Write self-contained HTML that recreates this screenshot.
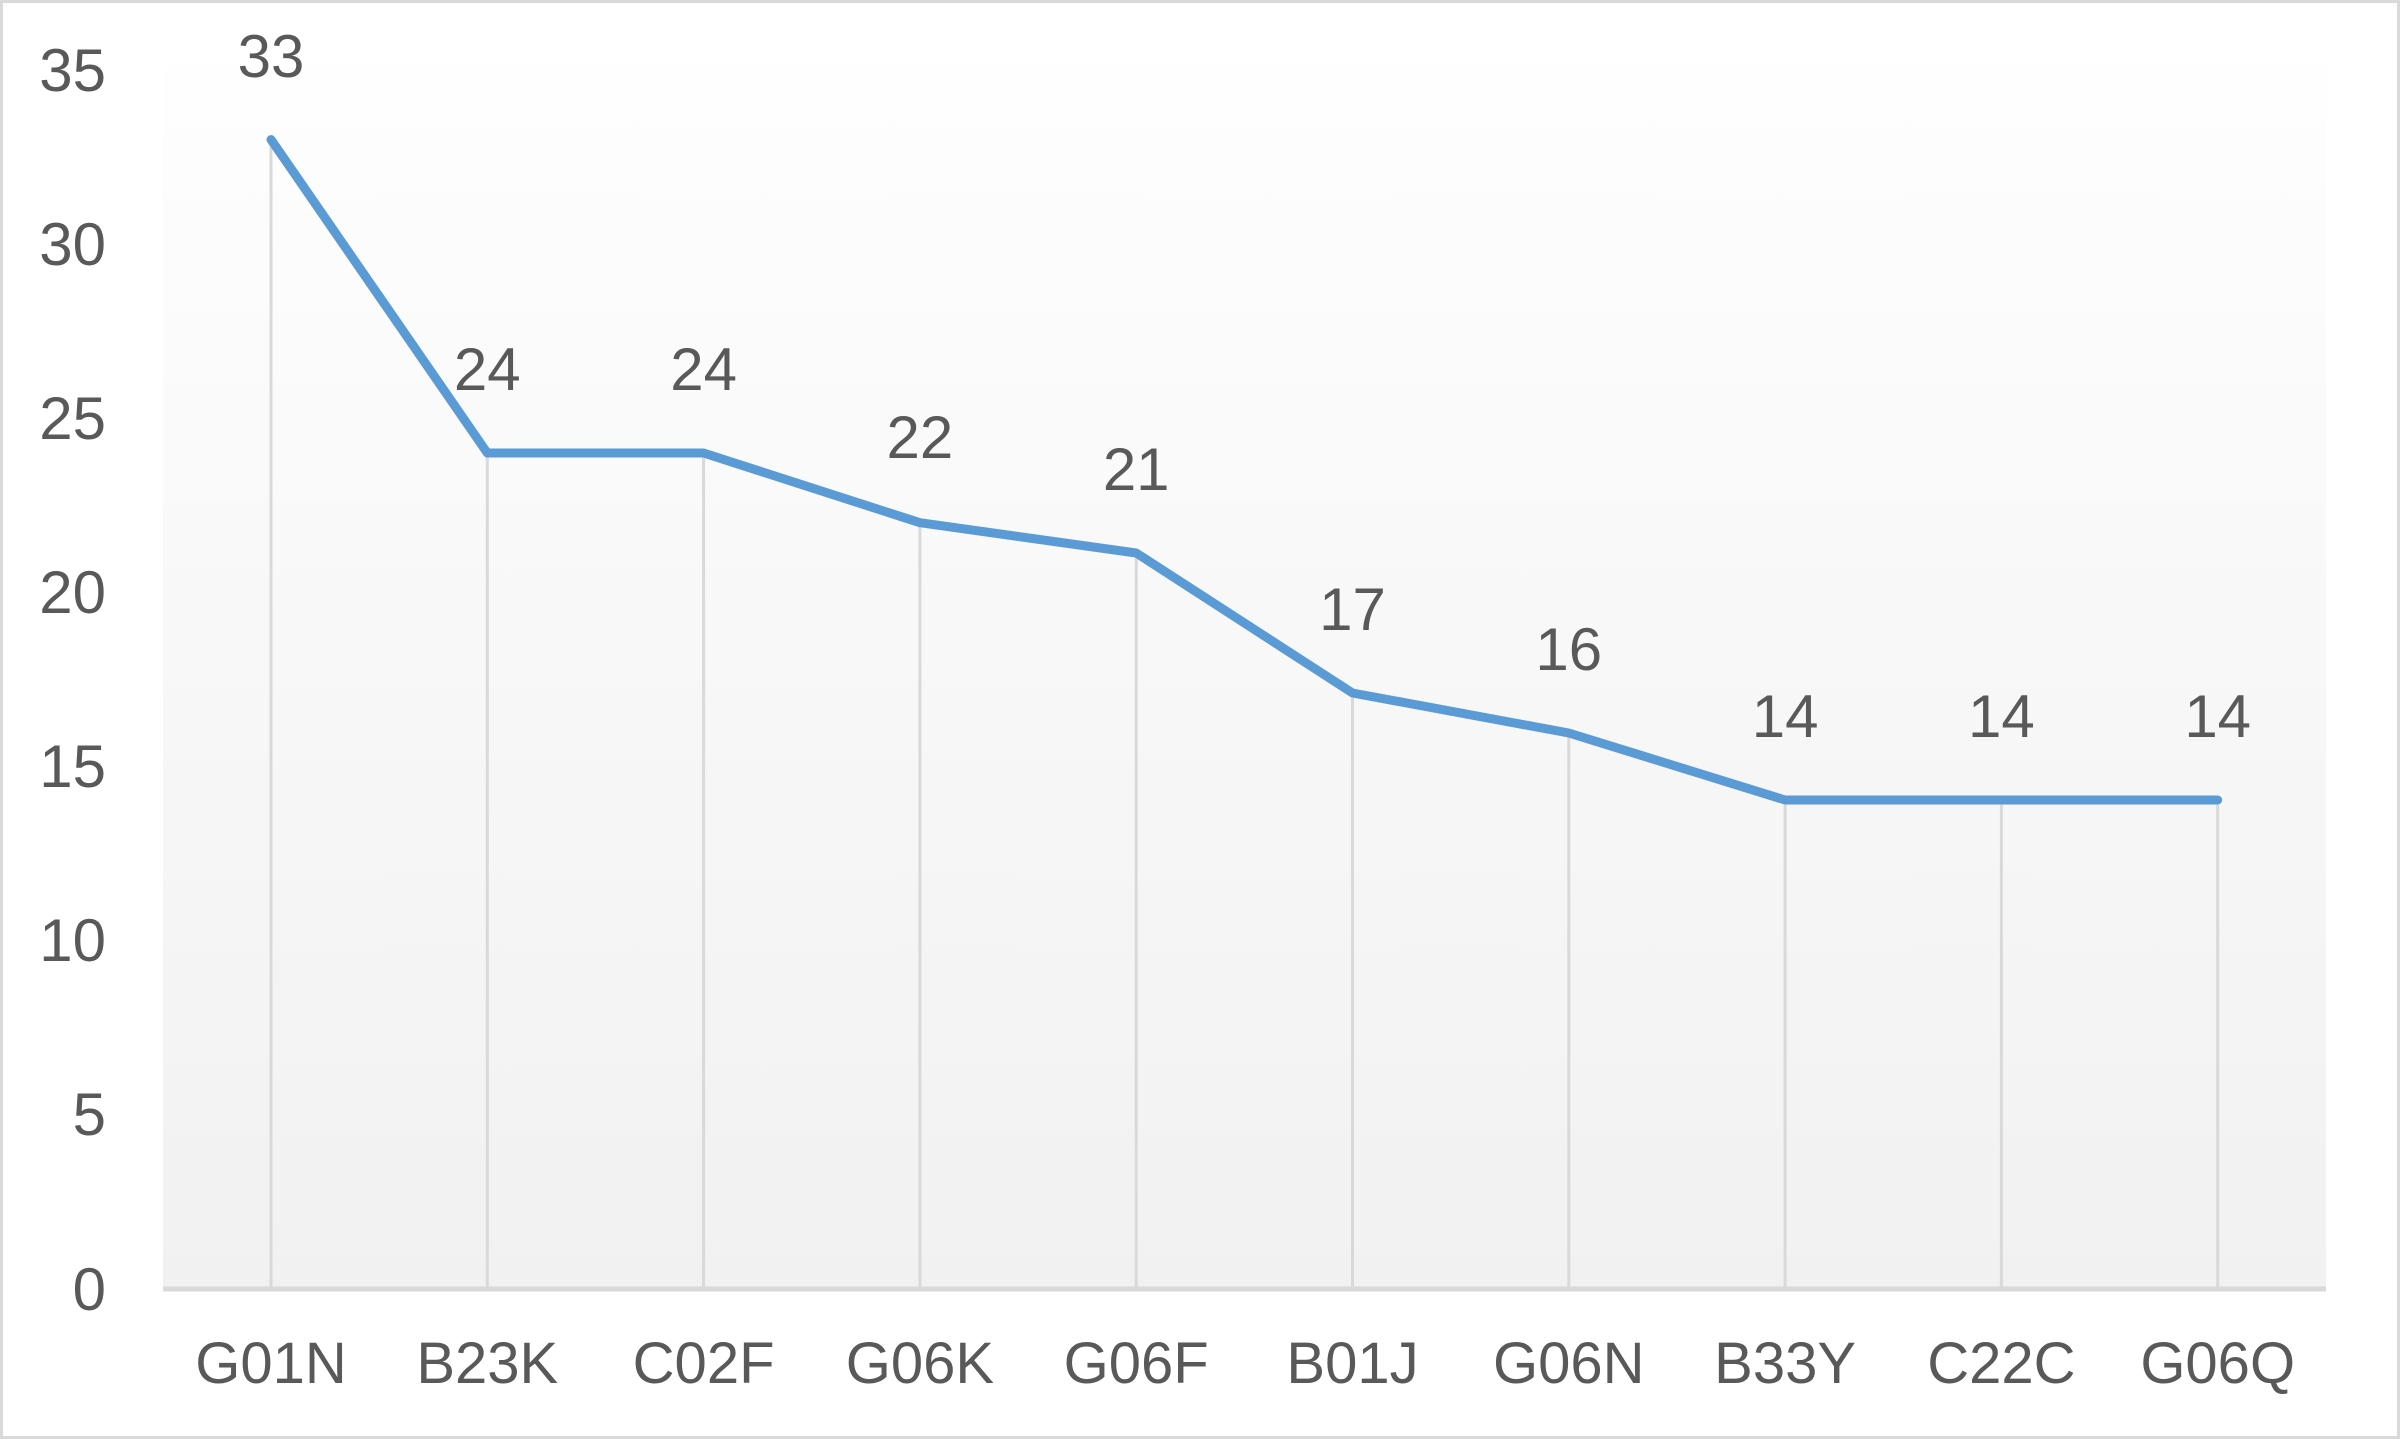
<!DOCTYPE html>
<html><head><style>html,body{margin:0;padding:0;background:#fff}</style></head>
<body>
<svg width="2400" height="1439" viewBox="0 0 2400 1439" xmlns="http://www.w3.org/2000/svg" font-family="Liberation Sans, sans-serif" fill="#595959">
<defs><linearGradient id="g" x1="0" y1="0" x2="0" y2="1"><stop offset="0" stop-color="#fefefe"/><stop offset="1" stop-color="#f1f1f1"/></linearGradient></defs>
<rect x="1.5" y="1.5" width="2397" height="1436" fill="#fff" stroke="#d9d9d9" stroke-width="3"/>
<rect x="163" y="66" width="2163" height="1223" fill="url(#g)"/>
<g stroke="#d9d9d9" stroke-width="3">
<line x1="271" y1="140" x2="271" y2="1289"/><line x1="487.3" y1="453" x2="487.3" y2="1289"/><line x1="703.6" y1="453" x2="703.6" y2="1289"/><line x1="919.9" y1="523" x2="919.9" y2="1289"/><line x1="1136.2" y1="557" x2="1136.2" y2="1289"/><line x1="1352.5" y1="697" x2="1352.5" y2="1289"/><line x1="1568.8" y1="732" x2="1568.8" y2="1289"/><line x1="1785.1" y1="801" x2="1785.1" y2="1289"/><line x1="2001.4" y1="801" x2="2001.4" y2="1289"/><line x1="2217.7" y1="801" x2="2217.7" y2="1289"/>
</g>
<line x1="163" y1="1289" x2="2326" y2="1289" stroke="#d9d9d9" stroke-width="5"/>
<polyline fill="none" stroke="#5b9bd5" stroke-width="9" stroke-linejoin="round" stroke-linecap="round" points="271,139.6 487.3,453 703.6,453 919.9,522.7 1136.2,553 1352.5,693 1568.8,733 1785.1,800 2001.4,800 2217.7,800"/>
<g font-size="60" text-anchor="end">
<text x="106" y="91">35</text><text x="106" y="265">30</text><text x="106" y="439">25</text><text x="106" y="613">20</text><text x="106" y="787">15</text><text x="106" y="961">10</text><text x="106" y="1135">5</text><text x="106" y="1310">0</text>
</g>
<g font-size="60" text-anchor="middle">
<text x="271" y="77">33</text><text x="487.3" y="390">24</text><text x="703.6" y="390">24</text><text x="919.9" y="458">22</text><text x="1136.2" y="490">21</text><text x="1352.5" y="630">17</text><text x="1568.8" y="670">16</text><text x="1785.1" y="737">14</text><text x="2001.4" y="737">14</text><text x="2217.7" y="737">14</text>
</g>
<g font-size="58" text-anchor="middle">
<text x="271" y="1383">G01N</text><text x="487.3" y="1383">B23K</text><text x="703.6" y="1383">C02F</text><text x="919.9" y="1383">G06K</text><text x="1136.2" y="1383">G06F</text><text x="1352.5" y="1383">B01J</text><text x="1568.8" y="1383">G06N</text><text x="1785.1" y="1383">B33Y</text><text x="2001.4" y="1383">C22C</text><text x="2217.7" y="1383">G06Q</text>
</g>
</svg>
</body></html>
